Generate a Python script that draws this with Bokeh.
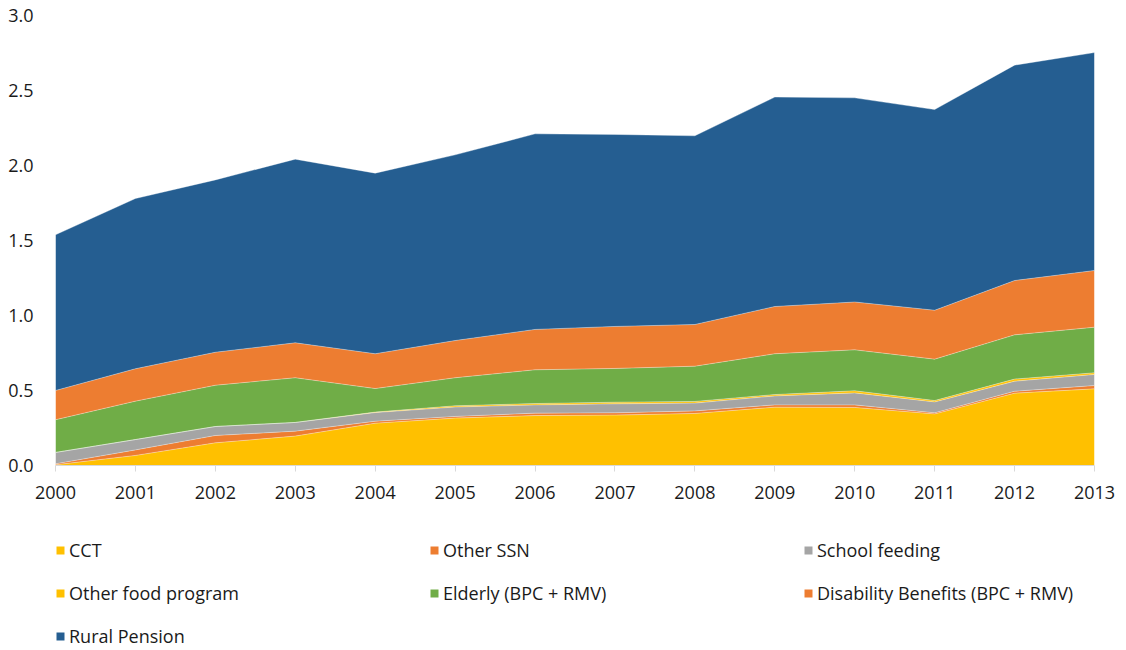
from bokeh.plotting import figure
from bokeh.layouts import column
from bokeh.models import (ColumnDataSource, Range1d, FixedTicker, Legend, LegendItem,
                          PrintfTickFormatter)
from bokeh.embed import file_html
from bokeh.resources import INLINE

years = list(range(2000, 2014))
cct = [0.005, 0.067, 0.151, 0.196, 0.282, 0.316, 0.333, 0.336, 0.347, 0.389, 0.387, 0.344, 0.482, 0.511]
other_ssn = [0.006, 0.037, 0.049, 0.033, 0.013, 0.011, 0.016, 0.015, 0.017, 0.015, 0.017, 0.007, 0.013, 0.022]
school_feeding = [0.076, 0.069, 0.060, 0.058, 0.058, 0.063, 0.055, 0.060, 0.052, 0.060, 0.080, 0.073, 0.067, 0.074]
other_food = [0.0, 0.0, 0.0, 0.0, 0.003, 0.008, 0.009, 0.011, 0.011, 0.009, 0.014, 0.009, 0.014, 0.011]
elderly = [0.218, 0.256, 0.275, 0.298, 0.157, 0.187, 0.225, 0.225, 0.235, 0.272, 0.273, 0.276, 0.295, 0.304]
disability = [0.195, 0.216, 0.220, 0.233, 0.232, 0.248, 0.269, 0.280, 0.278, 0.315, 0.319, 0.326, 0.362, 0.378]
rural_pension = [1.038, 1.135, 1.149, 1.224, 1.204, 1.238, 1.304, 1.280, 1.258, 1.396, 1.361, 1.338, 1.436, 1.453]

series_keys = ["cct", "other_ssn", "school", "other_food", "elderly", "disability", "rural"]
series_names = ["CCT", "Other SSN", "School feeding", "Other food program",
                "Elderly (BPC + RMV)", "Disability Benefits (BPC + RMV)", "Rural Pension"]
colors = ["#FFC000", "#ED7D31", "#A5A5A5", "#FFC000", "#70AD47", "#ED7D31", "#255E91"]
y_ticks = [0.0, 0.5, 1.0, 1.5, 2.0, 2.5, 3.0]

source = ColumnDataSource(dict(year=years, cct=cct, other_ssn=other_ssn, school=school_feeding,
                               other_food=other_food, elderly=elderly, disability=disability,
                               rural=rural_pension))

FONT = "Open Sans"

# ---- main chart ----
p = figure(width=1126, height=515, output_backend="svg", toolbar_location=None,
           x_range=Range1d(2000, 2013), y_range=Range1d(0, 3),
           min_border_left=55, min_border_right=32, min_border_top=15, min_border_bottom=50)
p.outline_line_color = None
p.grid.grid_line_color = None

p.varea_stack(series_keys, x="year", source=source, color=colors)
p.vline_stack(series_keys, x="year", source=source, line_color="white", line_alpha=0.35, line_width=1)

p.xaxis.ticker = FixedTicker(ticks=years)
p.xaxis.axis_line_color = "#D9D9D9"
p.xaxis.major_tick_line_color = "#D9D9D9"
p.xaxis.major_tick_out = 6
p.xaxis.major_tick_in = 0
p.xaxis.minor_tick_line_color = None
p.xaxis.major_label_standoff = 14

p.yaxis.ticker = FixedTicker(ticks=y_ticks)
p.yaxis.formatter = PrintfTickFormatter(format="%.1f")
p.yaxis.axis_line_color = None
p.yaxis.major_tick_line_color = None
p.yaxis.minor_tick_line_color = None
p.yaxis.major_label_standoff = 16

for ax in (p.xaxis, p.yaxis):
    ax.major_label_text_font = FONT
    ax.major_label_text_font_size = "18px"
    ax.major_label_text_color = "#1a1a1a"

# ---- legend strip (same series drawn off-range, only the legend is visible) ----
lg = figure(width=1126, height=135, output_backend="svg", toolbar_location=None,
            x_range=Range1d(2000, 2013), y_range=Range1d(10, 11),
            x_axis_location=None, y_axis_location=None,
            min_border_left=0, min_border_right=0, min_border_top=0, min_border_bottom=0)
lg.outline_line_color = None
lg.grid.grid_line_color = None
leg_areas = lg.varea_stack(series_keys, x="year", source=source, color=colors)

items = [LegendItem(label=n, renderers=[r]) for n, r in zip(series_names, leg_areas)]
legend = Legend(items=items, ncols=3, orientation="horizontal", location=(0, 2),
                padding=0, margin=0, spacing=19,
                glyph_width=10, glyph_height=10, label_height=20, label_width=341,
                label_standoff=4, label_text_font=FONT, label_text_font_size="18px",
                label_text_color="#1a1a1a",
                border_line_color=None, background_fill_alpha=0)
lg.add_layout(legend, "center")

layout = column(p, lg, spacing=0)
open("out.html", "w").write(file_html(layout, INLINE))
